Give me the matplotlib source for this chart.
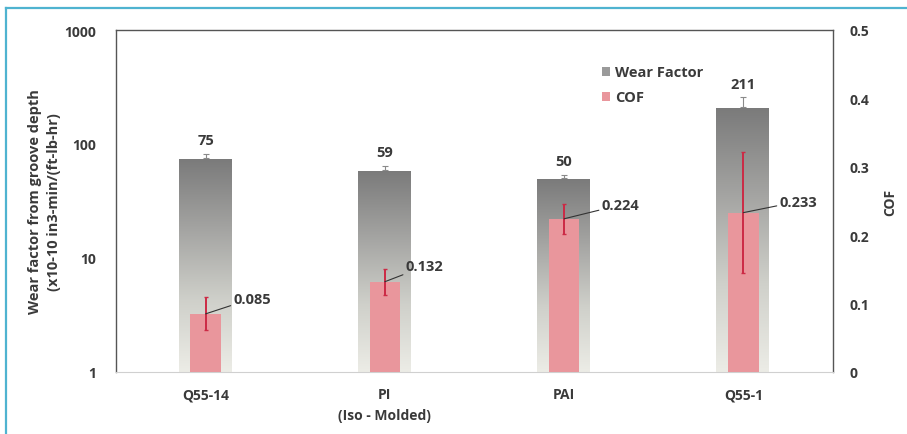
import matplotlib.pyplot as plt
import numpy as np
from matplotlib.colors import LinearSegmentedColormap
from matplotlib.patches import Patch
from matplotlib.transforms import blended_transform_factory

plt.rcParams['font.family'] = ['Open Sans', 'DejaVu Sans']
plt.rcParams['font.weight'] = 'bold'

# Data
materials = ['Q55-14', 'PI\n(Iso - Molded)', 'PAI', 'Q55-1']
wear = [75, 59, 50, 211]
wear_err = [6, 5, 3, 45]
cof = [0.085, 0.132, 0.224, 0.233]
cof_err = [0.024, 0.019, 0.022, 0.088]

# label offsets (points) for the COF call-outs
cof_label_offsets = [(20, 11), (15, 11), (27, 10), (26, 8)]

text_color = '#3a3a3a'
fig = plt.figure(figsize=(9.07, 4.35), dpi=100)

# thin blue frame around the figure
fig.add_artist(plt.Line2D([6 / 907, 6 / 907], [0, 1 - 9 / 435], color='#4fb3d0', lw=1.6))
fig.add_artist(plt.Line2D([6 / 907, 1], [1 - 9 / 435, 1 - 9 / 435], color='#4fb3d0', lw=1.6))

ax = fig.add_axes([116 / 907, 62 / 435, 717 / 907, 342 / 435])
ax.set_yscale('log')
ax.set_ylim(1, 1000)
x = np.arange(len(materials))
ax.set_xlim(-0.5, len(materials) - 0.5)

gray_w = 0.30
pink_w = 0.17

# gradient-filled wear factor bars
cmap = LinearSegmentedColormap.from_list('wf', ['#ecece6', '#cfd0ca', '#a4a4a2', '#7a7a7a'])
grad = np.linspace(0, 1, 256).reshape(-1, 1)
trans = blended_transform_factory(ax.transData, ax.transAxes)
bars = ax.bar(x, wear, gray_w, bottom=1, color='none', edgecolor='none', zorder=2)
for xi, val, b in zip(x, wear, bars):
    frac = ax.transLimits.transform(ax.transScale.transform((xi, val)))[1]
    im = ax.imshow(grad, cmap=cmap, aspect='auto', origin='lower',
                   extent=(xi - gray_w / 2, xi + gray_w / 2, 0, frac),
                   transform=trans, zorder=2)
    im.set_clip_path(b)
ax.set_xlim(-0.5, len(materials) - 0.5)
ax.set_ylim(1, 1000)
ax.errorbar(x, wear, yerr=[[0] * 4, wear_err], fmt='none', ecolor='#8a8a8a',
            elinewidth=0.8, capsize=2, capthick=0.8, zorder=3)
for xi, val, err in zip(x, wear, wear_err):
    ax.annotate(f'{val}', xy=(xi, val + err), xytext=(0, 5), textcoords='offset points',
                ha='center', va='bottom', fontsize=10.5, fontweight='bold', color=text_color)

ax.set_xticks(x)
ax.set_xticklabels(materials, fontsize=10, fontweight='bold', color=text_color,
                   linespacing=1.6)
ax.set_yticks([1, 10, 100, 1000])
ax.set_yticklabels(['1', '10', '100', '1000'], fontsize=10, fontweight='bold', color=text_color)
ax.minorticks_off()
ax.tick_params(axis='x', length=0, pad=11)
ax.tick_params(axis='y', length=0, pad=14)
ax.set_ylabel('Wear factor from groove depth\n(x10-10 in3-min/(ft-lb-hr)',
              fontsize=10.5, fontweight='bold', color=text_color, labelpad=3,
              linespacing=1.45)
for side in ['left', 'right', 'top']:
    ax.spines[side].set_color('#555555')
    ax.spines[side].set_linewidth(1.0)
ax.spines['bottom'].set_color('#d0d0d0')

# COF on the secondary axis
ax2 = ax.twinx()
ax2.set_ylim(0, 0.5)
ax2.bar(x, cof, pink_w, color='#e9969c', zorder=2)
ax2.errorbar(x, cof, yerr=cof_err, fmt='none', ecolor='#cc2a45', elinewidth=1.4,
             capsize=1.5, capthick=1.0, zorder=3)
for xi, val, off in zip(x, cof, cof_label_offsets):
    ax2.annotate(f'{val:.3f}', xy=(xi, val), xytext=off, textcoords='offset points',
                 ha='left', va='center', fontsize=10.5, fontweight='bold', color=text_color,
                 arrowprops=dict(arrowstyle='-', color='#333333', lw=0.8,
                                 shrinkA=0, shrinkB=0))
ax2.set_yticks(np.arange(0, 0.51, 0.1))
ax2.set_yticklabels(['0', '0.1', '0.2', '0.3', '0.4', '0.5'], fontsize=10,
                    fontweight='bold', color=text_color)
ax2.tick_params(axis='y', length=0, pad=12)
ax2.set_ylabel('COF', fontsize=10, fontweight='bold', color=text_color, labelpad=10)
for s in ax2.spines.values():
    s.set_visible(False)

handles = [Patch(facecolor='#9a9a9a', edgecolor='none', label='Wear Factor'),
           Patch(facecolor='#e9969c', edgecolor='none', label='COF')]
leg = ax2.legend(handles=handles, loc='upper left', bbox_to_anchor=(0.66, 0.935),
                 frameon=False, fontsize=10.5, handlelength=0.5, handleheight=0.6,
                 handletextpad=0.4, labelspacing=0.75)
for t in leg.get_texts():
    t.set_color(text_color)

fig.savefig('out.png', dpi=100)
